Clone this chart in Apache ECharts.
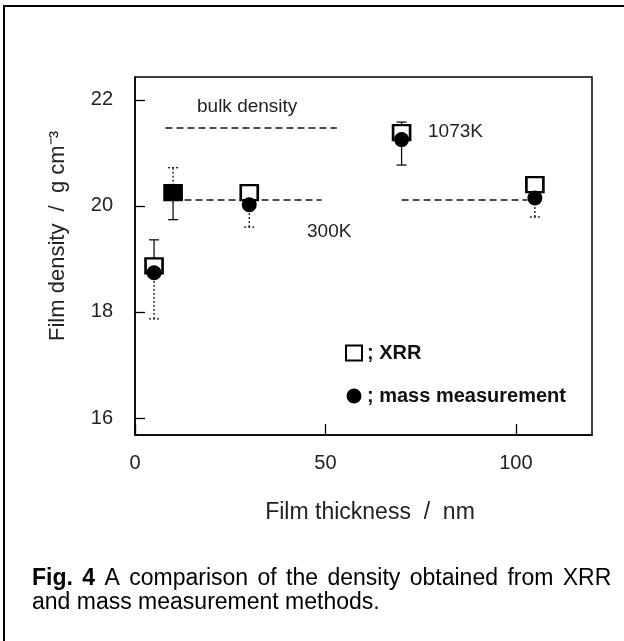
<!DOCTYPE html>
<html>
<head>
<meta charset="utf-8">
<script src="https://cdn.jsdelivr.net/npm/echarts@6/dist/echarts.min.js"></script>
<style>
  html, body { margin: 0; padding: 0; background: #fff; }
  #main { width: 624px; height: 641px; }
</style>
</head>
<body>
<div id="main"></div>
<script>
// film thickness (nm)
var thickness = [5, 10, 30, 70, 105];
// density g/cm3
var xrrDensity  = [18.87, 20.25, 20.25, 21.38, 20.40];
var massDensity = [18.74, 20.23, 20.02, 21.25, 20.15];
// error bars
var xrrErrLow   = [18.87, 19.74, 20.25, 20.77, 20.40];
var xrrErrHigh  = [19.36, 20.25, 20.25, 21.58, 20.55];
var massErrLow  = [17.87, 20.23, 19.60, 21.25, 19.79];
var massErrHigh = [18.74, 20.72, 20.02, 21.25, 20.15];
// reference lines
var bulkLineX = [8, 53];
var bulkDensity = 21.47;
var line300X = [[13, 49], [70, 103]];
var density300K = 20.11;
var xTicks = [0, 50, 100];
var yTicks = [16, 18, 20, 22];
var captionLine1 = ['A', 'comparison', 'of', 'the', 'density', 'obtained', 'from', 'XRR'];

var fontFam = 'Liberation Sans, Arial, sans-serif';

function errSeries(name, lo, hi, dash) {
  return {
    name: name,
    type: 'custom',
    z: 1,
    silent: true,
    data: thickness.map(function (x, i) { return [x, lo[i], hi[i]]; }),
    renderItem: function (params, api) {
      var p1 = api.coord([api.value(0), api.value(1)]);
      var p2 = api.coord([api.value(0), api.value(2)]);
      var w = 5;
      var st = { stroke: '#111', lineWidth: 1.3, lineDash: dash };
      return {
        type: 'group',
        children: [
          { type: 'line', shape: { x1: p1[0], y1: p1[1], x2: p2[0], y2: p2[1] }, style: st },
          { type: 'line', shape: { x1: p1[0] - w, y1: p1[1], x2: p1[0] + w, y2: p1[1] }, style: st },
          { type: 'line', shape: { x1: p2[0] - w, y1: p2[1], x2: p2[0] + w, y2: p2[1] }, style: st }
        ]
      };
    }
  };
}

function dashLine(xr, y) {
  return {
    type: 'line',
    z: 1,
    silent: true,
    symbol: 'none',
    lineStyle: { color: '#111', width: 1.5, type: [7, 4] },
    data: [[xr[0], y], [xr[1], y]]
  };
}

var series = [
  errSeries('xrrErr', xrrErrLow, xrrErrHigh, null),
  errSeries('massErr', massErrLow, massErrHigh, [2, 2]),
  dashLine(bulkLineX, bulkDensity),
  dashLine(line300X[0], density300K),
  dashLine(line300X[1], density300K),
  {
    name: 'XRR',
    type: 'scatter',
    z: 3,
    symbol: 'rect',
    symbolSize: [17, 15],
    itemStyle: { color: '#fff', borderColor: '#000', borderWidth: 2.5, opacity: 1 },
    data: thickness.map(function (x, i) {
      var d = { value: [x, xrrDensity[i]] };
      // the 10 nm point is drawn filled in the figure
      if (i === 1) d.itemStyle = { color: '#000' };
      return d;
    })
  },
  {
    name: 'mass measurement',
    type: 'scatter',
    z: 4,
    symbol: 'circle',
    symbolSize: 15,
    itemStyle: { color: '#000', opacity: 1 },
    data: thickness.map(function (x, i) { return [x, massDensity[i]]; })
  }
];

// caption first line is justified in the figure, so the word gaps are widened
var capRich = {
  b: { font: 'bold 23px ' + fontFam, fill: '#000' },
  n: { font: '23px ' + fontFam, fill: '#000' },
  g: { font: '23px ' + fontFam, width: 9.4 }
};
var capText = '{b|Fig.}{g| }{b|4}{g| }' + captionLine1.map(function (w) { return '{n|' + w + '}'; }).join('{g| }');

var chart = echarts.init(document.getElementById('main'));
chart.setOption({
  animation: false,
  backgroundColor: '#fff',
  textStyle: { fontFamily: fontFam },
  grid: {
    left: 135, top: 77, right: 32, bottom: 206,
    show: true, borderColor: '#000', borderWidth: 1.5
  },
  xAxis: {
    type: 'value',
    min: 0, max: 120,
    splitLine: { show: false },
    axisLine: { lineStyle: { color: '#000', width: 1.5 } },
    axisTick: { inside: true, length: 11, lineStyle: { color: '#000', width: 1.3 }, customValues: xTicks },
    axisLabel: { customValues: xTicks, margin: 18, fontSize: 20, color: '#222', fontFamily: fontFam }
  },
  yAxis: {
    type: 'value',
    min: 15.68, max: 22.43,
    splitLine: { show: false },
    axisLine: { lineStyle: { color: '#000', width: 1.5 } },
    axisTick: { inside: true, length: 10, lineStyle: { color: '#000', width: 1.3 }, customValues: yTicks },
    axisLabel: { customValues: yTicks, margin: 22, fontSize: 20, color: '#222', fontFamily: fontFam }
  },
  legend: {
    orient: 'vertical',
    left: 340, top: 338,
    itemWidth: 16, itemHeight: 15,
    itemGap: 23,
    selectedMode: false,
    formatter: '; {name}',
    textStyle: { fontSize: 20, fontWeight: 'bold', color: '#111', fontFamily: fontFam },
    data: [{ name: 'XRR', icon: 'rect' }, { name: 'mass measurement', icon: 'circle' }]
  },
  graphic: [
    { type: 'rect', shape: { x: 4, y: 6, width: 630, height: 660 }, style: { fill: 'none', stroke: '#000', lineWidth: 2 }, z: 100 },
    { type: 'text', x: 58, y: 236, rotation: Math.PI / 2,
      style: { text: 'Film density  /  g cm⁻³', font: '22px ' + fontFam, fill: '#222', align: 'center', verticalAlign: 'middle' } },
    { type: 'text', x: 370, y: 513,
      style: { text: 'Film thickness  /  nm', font: '23px ' + fontFam, fill: '#222', align: 'center', verticalAlign: 'middle' } },
    { type: 'text', x: 197, y: 107,
      style: { text: 'bulk density', font: '19px ' + fontFam, fill: '#222', align: 'left', verticalAlign: 'middle' } },
    { type: 'text', x: 307, y: 232,
      style: { text: '300K', font: '19px ' + fontFam, fill: '#222', align: 'left', verticalAlign: 'middle' } },
    { type: 'text', x: 428, y: 132,
      style: { text: '1073K', font: '19px ' + fontFam, fill: '#222', align: 'left', verticalAlign: 'middle' } },
    { type: 'text', x: 32, y: 579,
      style: { rich: capRich, text: capText, verticalAlign: 'middle' } },
    { type: 'text', x: 32, y: 603,
      style: { text: 'and mass measurement methods.', font: '23px ' + fontFam, fill: '#000', verticalAlign: 'middle' } }
  ],
  series: series
});
</script>
</body>
</html>
